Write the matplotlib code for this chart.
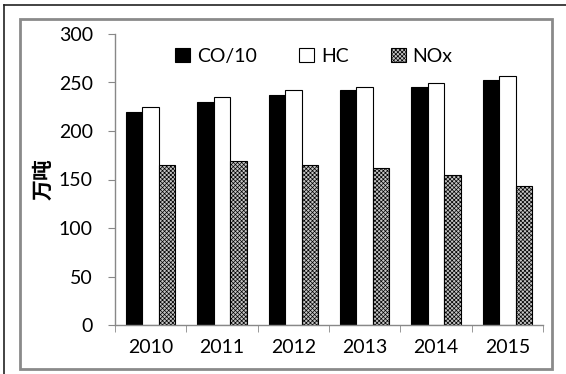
import matplotlib
matplotlib.use("Agg")
import matplotlib.pyplot as plt
import numpy as np
from matplotlib.lines import Line2D
from matplotlib.patches import Rectangle

years = ["2010", "2011", "2012", "2013", "2014", "2015"]
co_div10 = [220, 230, 237, 242, 245, 253]
hc = [225, 235, 242, 245, 249, 257]
nox = [165, 169, 165, 162, 155, 143]
series_names = ["CO/10", "HC", "NOx"]
y_ticks = [0, 50, 100, 150, 200, 250, 300]

plt.rcParams["font.family"] = ["Lato", "DejaVu Sans"]
plt.rcParams["hatch.linewidth"] = 0.5

fig = plt.figure(figsize=(5.66, 3.74), dpi=100)
W, H = 566, 374
ax = fig.add_axes([115 / W, 1 - 325 / H, (543 - 115) / W, (325 - 34) / H])

x = np.arange(len(years))
bw = 0.23
ax.bar(x - bw, co_div10, bw, color="black", edgecolor="black", linewidth=0.8,
       label=series_names[0])
ax.bar(x, hc, bw, color="white", edgecolor="black", linewidth=0.8,
       label=series_names[1])
ax.bar(x + bw, nox, bw, color="#c4c4c4", edgecolor="black", linewidth=0.8,
       hatch="xxxxxxxx", label=series_names[2])

ax.set_xlim(-0.5, len(years) - 0.5)
ax.set_ylim(0, 300)
ax.set_yticks(y_ticks)
ax.set_xticks(x)
ax.set_xticklabels(years)
ax.set_xticks(np.arange(len(years) + 1) - 0.5, minor=True)
ax.tick_params(axis="x", which="major", length=0, pad=10, labelsize=14)
ax.tick_params(axis="x", which="minor", length=5, color="#888888", direction="out")
ax.tick_params(axis="y", length=5, color="#888888", pad=11, labelsize=14)
for s in ["top", "right"]:
    ax.spines[s].set_visible(False)
for s in ["left", "bottom"]:
    ax.spines[s].set_color("#888888")
    ax.spines[s].set_linewidth(1.0)

ax.set_ylabel("万吨", family=["Noto Sans CJK SC"], fontweight="bold", fontsize=15,
              labelpad=4)

ax.legend(loc="upper center", bbox_to_anchor=(0.465, 1.0), ncol=3, frameon=False,
          fontsize=14, handlelength=0.75, handleheight=0.75, handletextpad=0.35,
          columnspacing=2.2, borderaxespad=0.3)

# chart frame and outer border
fig.add_artist(Rectangle((20 / W, 1 - 369 / H), (552 - 20) / W, (369 - 19) / H,
                         transform=fig.transFigure, fill=False,
                         edgecolor="#8a8a8a", linewidth=2))
fig.add_artist(Line2D([4 / W, 1], [1 - 5 / H, 1 - 5 / H], transform=fig.transFigure,
                      color="#222222", linewidth=1.2))
fig.add_artist(Line2D([4 / W, 4 / W], [0, 1 - 5 / H], transform=fig.transFigure,
                      color="#222222", linewidth=1.2))

fig.savefig("out.png", dpi=100)
